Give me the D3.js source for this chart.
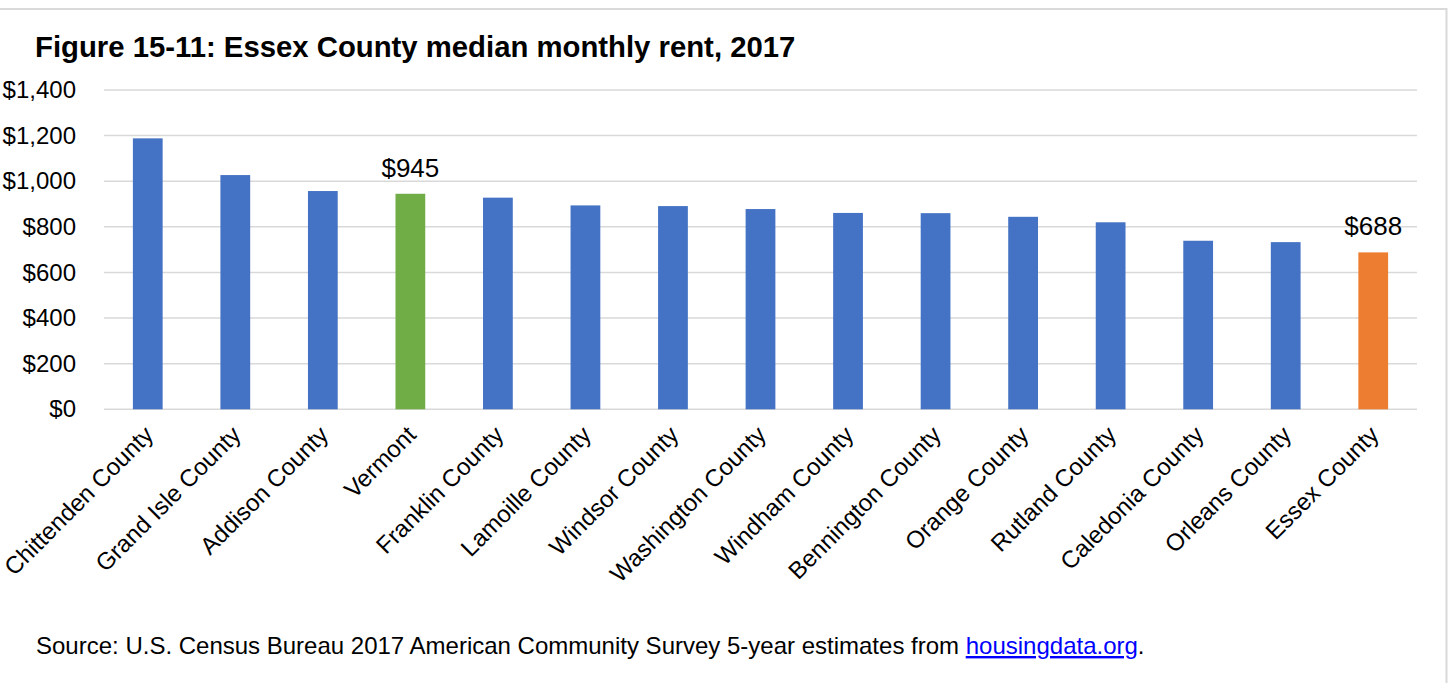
<!DOCTYPE html>
<html>
<head>
<meta charset="utf-8">
<script src="https://cdn.jsdelivr.net/npm/d3@7"></script>
<style>
  html, body { margin: 0; padding: 0; background: #fff; }
  svg { display: block; font-family: Arial, "Liberation Sans", sans-serif; }
</style>
</head>
<body>
<svg id="chart" width="1450" height="683"></svg>
<script>
// Median monthly gross rent by area, 2017
const categories = ["Chittenden County", "Grand Isle County", "Addison County", "Vermont",
  "Franklin County", "Lamoille County", "Windsor County", "Washington County",
  "Windham County", "Bennington County", "Orange County", "Rutland County",
  "Caledonia County", "Orleans County", "Essex County"];
const rents = [1188, 1027, 957, 945, 928, 894, 891, 878, 861, 860, 844, 820, 739, 733, 688];
const yTicks = [0, 200, 400, 600, 800, 1000, 1200, 1400];
const labelled = ["Vermont", "Essex County"];

const svg = d3.select("#chart");
const W = 1450, H = 683;
const FONT = "Arial, 'Liberation Sans', sans-serif";

// outer frame (top and right edges)
svg.append("line").attr("x1", 0).attr("x2", 1447).attr("y1", 9).attr("y2", 9)
  .attr("stroke", "#d9d9d9").attr("stroke-width", 2);
svg.append("line").attr("x1", 1446.5).attr("x2", 1446.5).attr("y1", 8).attr("y2", H)
  .attr("stroke", "#d9d9d9").attr("stroke-width", 2);

svg.append("text").attr("x", 35).attr("y", 57)
  .attr("font-size", 29.3).attr("font-weight", "bold").attr("fill", "#000")
  .text("Figure 15-11: Essex County median monthly rent, 2017");

const x = d3.scaleBand().domain(categories).range([104, 1417]).paddingInner(0.66).paddingOuter(0.33);
const y = d3.scaleLinear().domain([0, 1400]).range([409.3, 90]);

const fmt = v => "$" + d3.format(",")(v);

// gridlines
svg.append("g").selectAll("line").data(yTicks).join("line")
  .attr("x1", 104).attr("x2", 1417)
  .attr("y1", d => y(d)).attr("y2", d => y(d))
  .attr("stroke", "#d9d9d9").attr("stroke-width", 1.5);

// y axis labels
const yAxis = svg.append("g").attr("transform", "translate(76,0)")
  .call(d3.axisLeft(y).tickValues(yTicks).tickSize(0).tickPadding(0).tickFormat(fmt));
yAxis.select(".domain").remove();
yAxis.selectAll("text").attr("font-size", 24).attr("fill", "#000").attr("font-family", FONT);

const colorOf = c => c === "Vermont" ? "#70ad47" : (c === "Essex County" ? "#ed7d31" : "#4472c4");

// bars
svg.append("g").selectAll("rect").data(categories).join("rect")
  .attr("x", d => x(d)).attr("width", x.bandwidth())
  .attr("y", (d, i) => y(rents[i]))
  .attr("height", (d, i) => y(0) - y(rents[i]))
  .attr("fill", d => colorOf(d));

// value labels
svg.append("g").selectAll("text").data(categories.filter(c => labelled.includes(c))).join("text")
  .attr("x", d => x(d) + x.bandwidth() / 2)
  .attr("y", d => y(rents[categories.indexOf(d)]) - 17)
  .attr("text-anchor", "middle").attr("font-size", 26).attr("fill", "#000")
  .text(d => fmt(rents[categories.indexOf(d)]));

// category labels, rotated 45 degrees
const xAxis = svg.append("g").attr("transform", "translate(0,409.3)")
  .call(d3.axisBottom(x).tickSize(0).tickPadding(0));
xAxis.select(".domain").remove();
xAxis.selectAll("text")
  .attr("font-size", 24).attr("fill", "#000").attr("font-family", FONT)
  .attr("text-anchor", "end")
  .attr("dy", 0).attr("y", 0)
  .attr("transform", "translate(7,27) rotate(-45)");

// source note
const src = svg.append("text").attr("x", 36).attr("y", 654).attr("font-size", 24).attr("fill", "#000");
src.append("tspan").text("Source: U.S. Census Bureau 2017 American Community Survey 5-year estimates from ");
src.append("tspan").attr("fill", "#0000ff").attr("text-decoration", "underline").text("housingdata.org");
src.append("tspan").text(".");
</script>
</body>
</html>
